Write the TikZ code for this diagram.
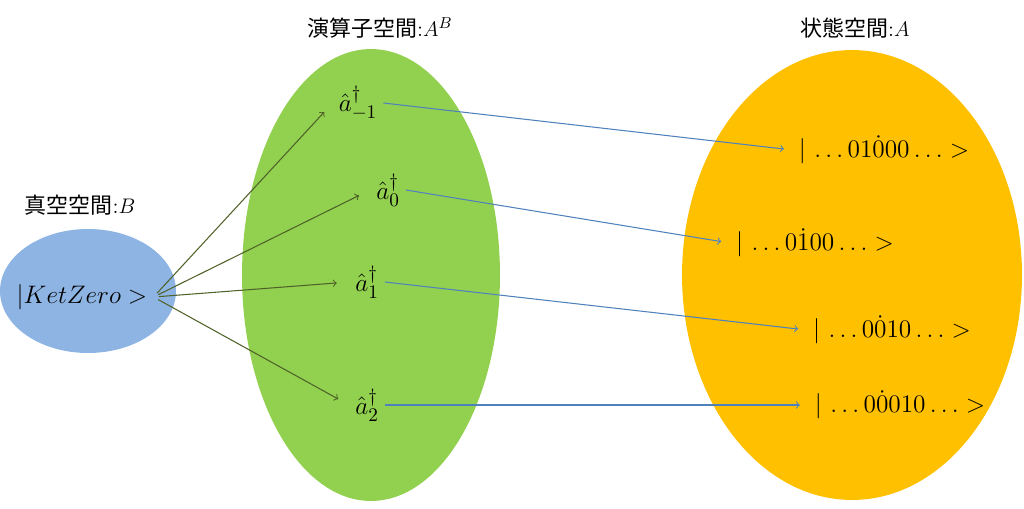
\documentclass[tikz,border=0pt]{standalone}
\usepackage{fontspec}
\newfontfamily\jp{Noto Sans CJK JP}
\usetikzlibrary{shapes.geometric}

\definecolor{vacblue}{HTML}{8EB4E3}
\definecolor{opgreen}{HTML}{92D050}
\definecolor{staorange}{HTML}{FFC000}
\definecolor{olivearrow}{HTML}{4F6228}
\definecolor{bluearrow}{HTML}{4F81BD}

\tikzset{
  space/.style={ellipse, draw=none, inner sep=0pt},
  title/.style={font=\fontsize{12.5}{15}\selectfont},
  lbl/.style={font=\fontsize{15.5}{18}\selectfont},
  create/.style={->, draw=olivearrow, line width=0.6pt, shorten >=7pt, shorten <=3pt},
  mapto/.style={->, draw=bluearrow, line width=0.6pt, shorten >=5pt}
}

\begin{document}
\begin{tikzpicture}[x=0.02cm, y=-0.02cm]
            \useasboundingbox (0,0) rectangle (1024,508);

            \node[space, fill=vacblue, minimum width=3.52cm, minimum height=2.48cm] (B) at (88,291) {};
            \node[space, fill=opgreen, minimum width=5.16cm, minimum height=9.04cm] (AB) at (371,275) {};
            \node[space, fill=staorange, minimum width=6.8cm, minimum height=9cm] (A) at (852,275) {};

            \node[title] (tB) at (80,205) {{\jp 真空空間}:$B$};
            \node[title] (tAB) at (380,28) {{\jp 演算子空間}:$A^B$};
            \node[title] (tA) at (855,28) {{\jp 状態空間}:$A$};

            \node[lbl] (ket) at (82,297) {$|KetZero>$};

            \node[lbl] (am1) at (358,103) {$\hat{a}^{\dagger}_{-1}$};
            \node[lbl] (a0) at (388,190) {$\hat{a}^{\dagger}_{0}$};
            \node[lbl] (a1) at (367,282) {$\hat{a}^{\dagger}_{1}$};
            \node[lbl] (a2) at (367,405) {$\hat{a}^{\dagger}_{2}$};

            \node[lbl] (s1) at (884,150) {$|\,\ldots01\dot{0}00\ldots>$};
            \node[lbl] (s2) at (815,243) {$|\,\ldots0\dot{1}00\ldots>$};
            \node[lbl] (s3) at (892,330) {$|\,\ldots0\dot{0}10\ldots>$};
            \node[lbl] (s4) at (900,405) {$|\,\ldots0\dot{0}010\ldots>$};

            \draw[create] (ket.east) -- (am1.west);
            \draw[create] (ket.east) -- (a0.west);
            \draw[create] (ket.east) -- (a1.west);
            \draw[create] (ket.east) -- (a2.west);

            \draw[mapto] (am1.east) -- (s1.west);
            \draw[mapto] (a0.east) -- (s2.west);
            \draw[mapto] (a1.east) -- (s3.west);
            \draw[mapto] (a2.east) -- (s4.west);
        \end{tikzpicture}
\end{document}
